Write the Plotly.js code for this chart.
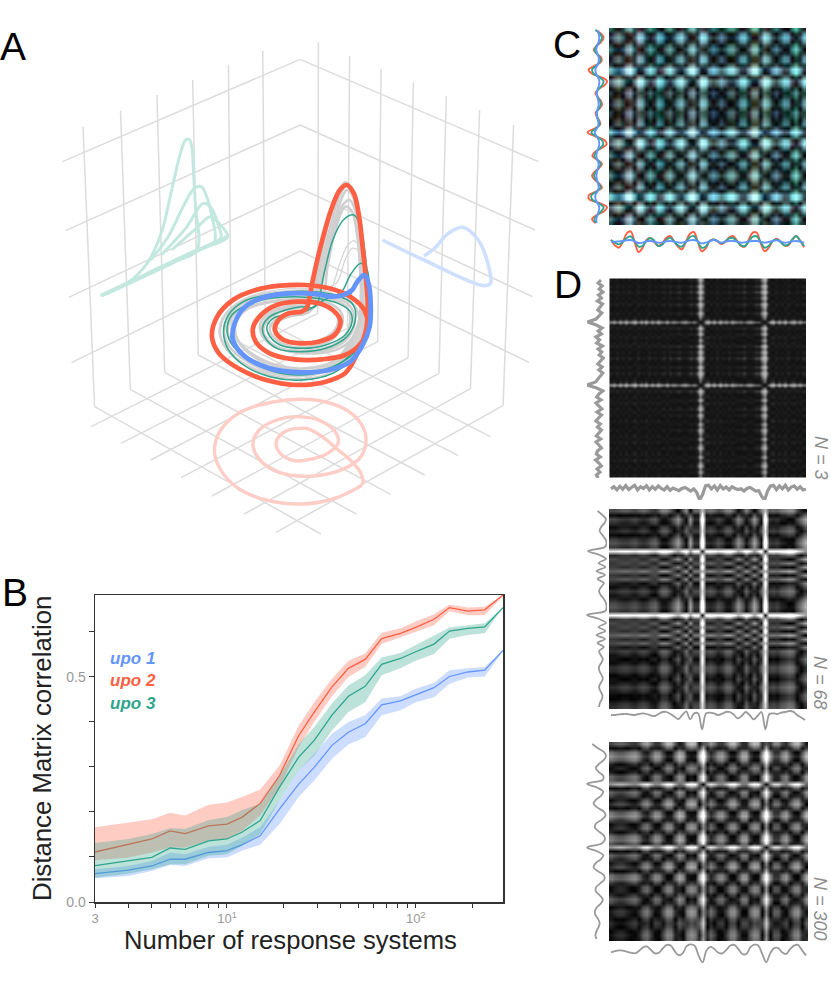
<!DOCTYPE html>
<html><head><meta charset="utf-8">
<script src="https://cdn.plot.ly/plotly-3.0.1.min.js"></script>
<style>html,body{margin:0;padding:0;background:#fff}image{image-rendering:auto!important}</style>
</head><body><div id="chart" style="width:831px;height:995px"></div>
<script>
// ---------- Panel A: paths ----------
const gridSegments=[[[857,118],[178,425]],[[857,315],[187,632]],[[857,505],[196,832]],[[857,693],[204,1028]],
[[857,118],[1537,425]],[[857,315],[1527,630]],[[857,505],[1520,830]],[[857,693],[1510,1027]],
[[237,320],[270,1160]],[[344,272],[372,1108]],[[448,225],[470,1057]],[[550,180],[566,1005]],[[652,135],[660,955]],[[750,92],[757,905]],
[[909,67],[907,880]],[[998,107],[992,925]],[[1088,147],[1078,965]],[[1180,187],[1165,1013]],[[1274,228],[1253,1060]],[[1369,270],[1343,1106]],[[1466,315],[1436,1157]],
[[270,1160],[916,1542]],[[372,1108],[1017,1482]],[[470,1057],[1115,1423]],[[566,1005],[1212,1365]],[[660,955],[1308,1307]],[[757,905],[1400,1250]],
[[1436,1157],[788,1537]],[[1343,1106],[697,1482]],[[1253,1060],[605,1428]],[[1165,1013],[517,1373]],[[1078,965],[430,1320]],[[992,925],[345,1270]],[[907,880],[260,1220]]];
const gray1=[[885,850],[905,760],[930,640],[960,530],[985,487],[1005,510],[1022,590],[1033,680],[1042,790],[1045,870],[1035,950],[1000,1010],[940,1060],[860,1078],[770,1066],[695,1030],[645,985],[628,940],[640,890],[680,850],[740,825],[810,815],[880,812],[950,822],[1000,845],[1025,890],[1012,945],[970,985],[900,1000],[830,995],[775,975],[745,940],[745,905],[775,875],[825,858],[885,850]];
const gray2=[[900,840],[920,750],[945,640],[970,550],[990,510],[1008,530],[1022,600],[1030,700],[1035,800],[1035,880],[1020,950],[985,1005],[930,1045],[860,1058],[780,1048],[710,1015],[665,975],[650,935],[662,890],[700,855],[755,835],[820,827],[890,826],[950,838],[990,862],[1000,905],[980,955],[925,985],[860,992],[800,985],[760,955],[752,925],[770,895],[815,870],[860,862],[900,840]];
const gray3=[[920,835],[935,740],[960,620],[985,560],[1005,575],[1020,650],[1028,750],[1030,830],[1025,900],[1000,965],[950,1025],[870,1045],[790,1035],[725,1005],[682,965],[668,930],[680,890],[715,860],[770,845],[830,838],[895,840],[945,852],[975,880],[975,920],[945,960],[890,980],[835,980],[790,960],[770,930],[785,900],[825,880],[880,870],[920,835]];
const gray4=[[945,810],[970,730],[990,680],[1010,662],[1028,690],[1035,760],[1040,830],[1035,900],[1005,975],[950,1030],[870,1055],[785,1045],[715,1005],[672,955],[660,920],[675,880],[720,850],[790,835],[860,830],[925,835],[945,810]];
const gray5=[[960,790],[985,720],[1005,685],[1025,695],[1035,760],[1042,830],[1040,900],[1010,985],[950,1045],[860,1070],[770,1060],[690,1025],[640,975],[625,935],[640,885],[690,840],[760,815],[840,805],[915,805],[960,790]];
const gray6=[[892,845],[912,755],[938,640],[965,540],[988,498],[1006,520],[1022,595],[1032,690],[1038,795],[1040,875],[1028,950],[992,1008],[935,1052],[860,1068],[775,1057],[702,1022],[655,980],[640,938],[652,890],[690,852],[748,830],[815,821],[885,819],[950,830],[995,853],[1012,897],[996,950],[948,985],[880,996],[815,990],[768,965],[748,932],[758,900],[795,872],[845,860],[892,845]];
const gray7=[[908,838],[928,745],[952,630],[978,555],[998,540],[1014,570],[1026,650],[1032,750],[1033,815],[1030,890],[1010,958],[968,1015],[900,1050],[825,1048],[752,1025],[695,985],[673,945],[675,900],[708,866],[762,848],[825,842],[888,845],[938,860],[962,885],[962,918],[935,950],[885,968],[835,970],[798,952],[780,925],[795,902],[832,888],[880,878],[908,838]];
const teal1=[[900,860],[925,760],[950,660],[980,600],[1010,585],[1030,620],[1042,700],[1052,790],[1062,860],[1062,890],[1045,950],[1005,1015],[950,1060],[860,1080],[770,1070],[695,1035],[650,985],[638,935],[652,885],[695,845],[760,825],[830,815],[895,815],[955,825],[1005,850],[1015,895],[990,950],[930,985],[860,995],[790,985],[755,950],[750,920],[770,890],[815,870],[860,860],[900,860]];
const teal2=[[975,815],[1000,765],[1030,730],[1048,750],[1055,810],[1058,880],[1040,950],[1000,1005],[940,1048],[860,1065],[775,1052],[705,1015],[660,970],[648,930],[662,885],[705,855],[770,835],[840,830],[905,835],[965,850],[1000,875],[1005,905],[985,945],[930,975],[865,985],[800,975],[768,945],[762,920],[780,895],[830,880],[880,870],[925,840],[975,815]];
const teal3=[[1000,825],[1020,790],[1038,772],[1050,790],[1055,840],[1058,890],[1042,945],[1010,1000],[950,1040],[860,1058],[780,1045]];
const redPath=[[880,850],[895,770],[915,680],[945,570],[970,510],[990,495],[1010,520],[1025,590],[1035,680],[1045,780],[1050,860],[1045,930],[1020,1000],[985,1060],[930,1085],[850,1095],[760,1080],[680,1045],[625,1000],[605,950],[620,890],[665,840],[730,810],[800,797],[870,795],[940,805],[1000,830],[1040,870],[1050,920],[1030,970],[985,1005],[920,1018],[840,1018],[770,1000],[730,965],[722,925],[745,885],[790,855],[850,845],[910,850],[955,875],[972,905],[955,945],[910,965],[860,970],[810,960],[785,930],[795,900],[825,880],[860,875],[875,865],[880,850]];
const bluePath=[[980,825],[1005,810],[1020,785],[1040,765],[1052,790],[1058,850],[1055,920],[1035,975],[1000,1025],[940,1050],[860,1057],[770,1045],[700,1010],[665,960],[670,910],[700,860],[760,830],[830,820],[900,822],[950,830],[980,825]];
const wallTeal1=[[290,826],[360,792],[420,730],[460,640],[490,510],[515,400],[530,360],[540,358],[548,385],[553,470],[558,560],[562,690],[500,725],[400,775],[290,826]];
const wallTeal2=[[430,720],[480,650],[530,545],[555,505],[575,500],[590,530],[605,590],[612,665],[560,690],[480,730],[420,760]];
const wallTeal3=[[460,705],[530,625],[580,550],[600,560],[625,620],[630,655],[570,688],[500,722]];
const wallTeal4=[[490,690],[560,625],[600,590],[625,610],[650,650],[590,680]];
const wallTealBase=[[290,826],[650,650]];
const wallBlue=[[1092,660],[1210,720],[1380,797],[1400,790],[1395,740],[1365,660],[1320,622],[1280,640],[1240,685],[1210,708]];
const floorRed=[[860,1225],[875,1225],[920,1250],[965,1290],[1000,1320],[1030,1360],[1035,1390],[1000,1415],[940,1440],[860,1452],[760,1440],[680,1405],[630,1350],[612,1290],[630,1230],[680,1180],[740,1155],[820,1140],[900,1140],[980,1165],[1030,1210],[1045,1260],[1030,1310],[985,1345],[920,1365],[850,1368],[780,1350],[735,1310],[722,1270],[740,1230],[790,1200],[850,1190],[920,1205],[960,1240],[965,1270],[935,1300],[885,1318],[840,1322],[800,1300],[788,1270],[800,1245],[830,1228],[860,1225]];

// ---------- Panel B ----------
const systems=[2,3,4,5,6,8,10,12,15,19,24,29,36,44,54,66,83,100,125,151,189,232,290];
const upo1=[.063,.071,.080,.095,.095,.110,.114,.127,.147,.207,.262,.299,.348,.377,.396,.438,.447,.461,.476,.501,.511,.515,.559];
const upo1Hi=[.073,.080,.091,.110,.106,.123,.127,.143,.166,.225,.292,.329,.374,.400,.415,.452,.457,.474,.487,.515,.519,.522,.561];
const upo1Lo=[.053,.058,.069,.082,.080,.097,.099,.114,.127,.173,.233,.270,.318,.350,.366,.415,.426,.444,.455,.485,.499,.501,.557];
const upo2=[.111,.127,.140,.158,.152,.169,.173,.188,.219,.281,.370,.422,.478,.519,.539,.585,.597,.610,.628,.654,.646,.649,.682];
const upo2Hi=[.166,.177,.184,.198,.192,.216,.221,.233,.250,.303,.392,.444,.496,.536,.552,.598,.608,.623,.639,.661,.654,.656,.682];
const upo2Lo=[.093,.099,.110,.121,.121,.136,.140,.158,.192,.255,.344,.400,.457,.500,.522,.573,.587,.600,.615,.646,.637,.637,.680];
const upo3=[.081,.091,.099,.120,.117,.136,.140,.155,.181,.255,.322,.359,.415,.457,.479,.528,.541,.556,.573,.602,.608,.611,.654];
const upo3Hi=[.131,.140,.151,.164,.162,.182,.189,.204,.218,.281,.351,.389,.441,.481,.504,.543,.553,.571,.593,.610,.615,.619,.654];
const upo3Lo=[.054,.063,.073,.084,.084,.103,.106,.125,.151,.225,.292,.325,.381,.422,.444,.504,.519,.536,.551,.585,.593,.597,.654];
const xTickVals=[2,10,100];
const xTickText=['3','10<sup>1</sup>','10<sup>2</sup>'];
const xMinorVals=[3,4,5,6,7,8,9,20,30,40,50,60,70,80,90,200];
const yTickVals=[0,.5];
const yTickText=['0.0','0.5'];
const yMinorVals=[.1,.2,.3,.4,.6];

// ---------- Panel C profiles ----------
const cLeftRed=[42,58,65,58,44,35,44,58,58,40,20,28,58,75,68,50,40,47,57,60,52,41,44,52,55,38,17,40,68,74,58,38,31,47,60,52,38,30,38,52,60,42,20,22,55,75,66,44,30,40];
const cLeftTeal=[40,54,60,54,44,38,44,54,55,44,30,34,52,65,60,50,44,47,54,56,50,44,46,50,53,42,28,42,60,64,54,42,37,47,56,50,42,36,42,50,56,44,28,30,50,65,58,46,37,42];
const cLeftBlue=[46,50,52,50,46,43,46,50,50,46,40,42,48,52,51,47,44,46,49,50,47,44,45,48,49,45,38,44,50,52,49,45,43,46,50,48,45,43,45,48,50,46,40,41,47,52,50,46,43,44];
const cBottomRed=[42,58,65,48,22,16,48,78,66,42,36,48,60,52,36,30,45,62,70,48,24,18,45,76,68,46,40,46,54,48,34,30,44,60,62,40,20,20,52,76,66,46,38,46,58,58,42,30,44,64];
const cBottomTeal=[42,50,55,48,36,31,45,62,60,45,36,44,60,56,42,35,46,58,62,48,34,30,45,65,62,46,40,45,52,46,37,36,46,58,60,46,32,31,48,65,60,46,40,48,58,56,40,30,44,60];
const cBottomBlue=[47,47,46,45,43,42,46,51,50,46,45,47,50,49,46,45,47,49,50,47,43,42,46,52,50,46,42,45,50,47,45,45,47,50,49,46,45,45,47,50,48,45,43,46,50,49,46,45,47,50];

// ---------- Panel D profiles ----------
const d3Left=[.78,.62,.84,.68,.88,.64,.80,.58,.86,.70,.60,.82,.66,.50,.03,.52,.84,.62,.80,.50,.70,.54,.86,.62,.82,.68,.90,.72,.60,.84,.66,.88,.74,.58,.48,0,.54,.88,.66,.54,.78,.50,.68,.82,.56,.80,.64,.50,.74,.58,.80,.66,.52,.76,.50,.66,.80,.58,.52,.74,.48,.66,.80,.56,.72,.52,.62];
const d3Bottom=[.62,.74,.56,.76,.60,.80,.58,.70,.82,.56,.74,.64,.80,.56,.74,.60,.78,.64,.56,.74,.54,.66,.60,.52,.64,.70,.60,.50,.62,.42,0,.30,.78,.82,.62,.78,.56,.80,.62,.72,.56,.74,.64,.58,.62,.50,.64,.70,.60,.50,.52,.20,0,.50,.78,.82,.58,.78,.62,.82,.56,.72,.78,.60,.74,.56,.60];
const d68Left=[.55,.78,.95,.88,.72,.65,.78,.92,.98,.90,.10,.65,.95,.60,.92,.50,.90,.55,.85,.72,.62,.70,.85,.95,.98,.92,.05,.62,.95,.60,.92,.50,.90,.55,.85,.62,.70,.80,.72,.62,.64,.74,.80,.70,.62,.68,.78,.76,.66,.62];
const d68Bottom=[.75,.75,.78,.80,.80,.77,.75,.80,.83,.80,.73,.70,.80,.90,.90,.80,.67,.55,.75,.93,.53,.83,.83,.03,.83,.87,.83,.75,.80,.90,.90,.77,.58,.70,.90,.75,.53,.70,.90,.03,.80,.83,.80,.87,.90,.95,.92,.75,.63,.50];
const d300Left=[.30,.55,.85,.95,.85,.62,.47,.60,.82,.80,.05,.55,.82,.72,.48,.36,.55,.85,.93,.75,.48,.42,.62,.85,.90,.75,.05,.55,.82,.70,.45,.36,.58,.85,.88,.68,.48,.47,.65,.80,.72,.52,.42,.45,.58,.65,.60,.50,.45,.50];
const d300Bottom=[.51,.57,.60,.59,.54,.49,.46,.57,.74,.79,.63,.46,.49,.69,.86,.83,.57,.37,.46,.80,.89,.83,.36,.03,.60,.77,.66,.49,.46,.63,.83,.86,.66,.43,.43,.74,.87,.83,.43,.03,.46,.71,.71,.51,.43,.66,.83,.86,.60,.36];

// ---------- Layout constants ----------
const W=831,H=995;
const cBlue='#6495ff',cRed='#ff5f43',cTeal='#2fa58c',gridCol='#dcdcdc',profCol='#9a9a9a';
const FONT='Liberation Sans, Arial, sans-serif';
const grayScale=[[0,'#000'],[1,'#fff']];
const darkScale=[[0,'#0e0e0e'],[.25,'#222'],[.7,'#aaa'],[1,'#ccc']];
const layout={width:W,height:H,margin:{l:0,r:0,t:0,b:0},paper_bgcolor:'#fff',plot_bgcolor:'rgba(0,0,0,0)',showlegend:false,font:{family:FONT},annotations:[]};
const traces=[];
let axisCount=0;
function addAxes(x0,x1,y0,y1,xr,yr){
  axisCount++;const s=axisCount===1?'':String(axisCount);
  const common={visible:false,fixedrange:true,showgrid:false,zeroline:false};
  layout['xaxis'+s]=Object.assign({},common,{domain:[x0/W,x1/W],range:xr,anchor:'y'+s});
  layout['yaxis'+s]=Object.assign({},common,{domain:[1-y1/H,1-y0/H],range:yr,anchor:'x'+s});
  return {xaxis:'x'+s,yaxis:'y'+s,s:s};
}
function line(ax,xs,ys,color,width,spline){
  traces.push({type:'scatter',mode:'lines',x:xs,y:ys,xaxis:ax.xaxis,yaxis:ax.yaxis,cliponaxis:false,hoverinfo:'skip',
    line:{color:color,width:width,shape:spline?'spline':'linear',smoothing:spline?1:0}});
}
function path(ax,p,color,width,spline){line(ax,p.map(q=>q[0]),p.map(q=>q[1]),color,width,spline);}
function text(t,px,py,size,color,opt){
  layout.annotations.push(Object.assign({text:t,xref:'paper',yref:'paper',x:px/W,y:1-py/H,showarrow:false,xanchor:'left',yanchor:'middle',font:{size:size,color:color,family:FONT}},opt||{}));
}

// ---------- Panel A ----------
const axA=addAxes(0,550,20,550,[0,1570],[1590,0]);
gridSegments.forEach(s=>path(axA,s,gridCol,1.5,false));
[wallTeal1,wallTeal2,wallTeal3,wallTeal4].forEach(p=>path(axA,p,'#c3e8df',3,true));
path(axA,wallTealBase,'#c3e8df',4,false);
path(axA,wallBlue,'#cfe0ff',3.6,true);
path(axA,floorRed,'#fdcdc6',3.4,true);
[gray1,gray6,gray2,gray7,gray3].forEach(p=>path(axA,p,'#cfcfcf',2.6,true));
path(axA,gray4,'#d4d4d4',1.2,true);path(axA,gray5,'#d4d4d4',1.2,true);
path(axA,teal1,cTeal,1.5,true);path(axA,teal2,cTeal,1.5,true);path(axA,teal3,cTeal,1.5,true);
path(axA,redPath,cRed,4.7,true);
path(axA,bluePath,cBlue,4.8,true);

// ---------- Panel B ----------
const axB=addAxes(95,503,595,902,[Math.log10(2),Math.log10(290)],[0,.682]);
const bx=layout['xaxis'+axB.s],by=layout['yaxis'+axB.s];
const minorX={ticks:'outside',ticklen:4,tickcolor:'#333',tickmode:'array',tickvals:xMinorVals,showgrid:false};
const minorY={ticks:'outside',ticklen:5,tickcolor:'#333',tickmode:'array',tickvals:yMinorVals,showgrid:false};
Object.assign(bx,{visible:true,type:'log',showline:true,mirror:true,linecolor:'#333',linewidth:1.5,ticks:'outside',ticklen:4,tickcolor:'#333',tickmode:'array',tickvals:xTickVals,ticktext:xTickText,tickfont:{size:13,color:'#999'},minor:minorX});
Object.assign(by,{visible:true,showline:true,mirror:true,linecolor:'#333',linewidth:1.5,ticks:'outside',ticklen:5,tickcolor:'#333',tickmode:'array',tickvals:yTickVals,ticktext:yTickText,tickfont:{size:14,color:'#999'},minor:minorY});
text('Number of response systems',290,940,25.6,'#222',{xanchor:'center'});
text('Distance Matrix correlation',42,749,25.8,'#222',{xanchor:'center',textangle:-90});
function band(hi,lo,mid,color,fill){
  traces.push({type:'scatter',mode:'lines',x:systems.concat(systems.slice().reverse()),y:hi.concat(lo.slice().reverse()),xaxis:axB.xaxis,yaxis:axB.yaxis,fill:'toself',fillcolor:fill,line:{width:0},hoverinfo:'skip'});
  traces.push({type:'scatter',mode:'lines',x:systems,y:mid,xaxis:axB.xaxis,yaxis:axB.yaxis,line:{color:color,width:1.3},hoverinfo:'skip'});
}
band(upo1Hi,upo1Lo,upo1,cBlue,'rgba(100,149,255,.32)');
band(upo2Hi,upo2Lo,upo2,cRed,'rgba(255,95,67,.32)');
band(upo3Hi,upo3Lo,upo3,cTeal,'rgba(47,165,140,.32)');
text('<b><i>upo 1</i></b>',108,658,17,cBlue);
text('<b><i>upo 2</i></b>',108,680,17,cRed);
text('<b><i>upo 3</i></b>',108,703,17,cTeal);

// ---------- Panel C ----------
const idx=(n,step)=>Array.from({length:n},(_,i)=>i*step);
const axC=addAxes(609,806,28,225,[-2,198],[198,-2]);
const mean=a=>a.reduce((s,v)=>s+v,0)/a.length;
const centred=a=>{const m=mean(a);return a.map(v=>v-m);};
const mix=(a,b)=>a.map((v,i)=>(v+b[i])/2);
// each colour channel is the distance between the left and the bottom profile of one series
const chanLeft=[cLeftRed,cLeftTeal,mix(cLeftTeal,cLeftBlue)].map(centred);
const chanBottom=[cBottomRed,cBottomTeal,mix(cBottomTeal,cBottomBlue)].map(centred).map(a=>a.map(v=>-v));
const leftScale=[1.15,1.2,1.2],chanGain=[3.4,7.5,12];
const zC=chanLeft[0].map((_,i)=>chanBottom[0].map((__,j)=>[0,1,2].map(k=>Math.min(255,Math.abs(chanLeft[k][i]*leftScale[k]-chanBottom[k][j])*chanGain[k]))));
const canvasC=document.createElement('canvas');
canvasC.width=zC[0].length;canvasC.height=zC.length;
const ctxC=canvasC.getContext('2d'),imgC=ctxC.createImageData(canvasC.width,canvasC.height);
zC.forEach((row,i)=>row.forEach((px,j)=>{const o=4*(i*canvasC.width+j);imgC.data[o]=px[0];imgC.data[o+1]=px[1];imgC.data[o+2]=px[2];imgC.data[o+3]=255;}));
ctxC.putImageData(imgC,0,0);
traces.push({type:'image',source:canvasC.toDataURL(),x0:0,dx:4,y0:0,dy:4,xaxis:axC.xaxis,yaxis:axC.yaxis,zsmooth:'fast',hoverinfo:'skip'});
const axCL=addAxes(582,612,28,225,[0,90],[198,-2]);
const axCB=addAxes(609,806,226,256,[-2,198],[90,0]);
const tC=idx(50,4);
[[cLeftRed,cRed],[cLeftTeal,cTeal],[cLeftBlue,cBlue]].forEach(a=>line(axCL,a[0],tC,a[1],1.9,true));
[[cBottomRed,cRed],[cBottomTeal,cTeal],[cBottomBlue,cBlue]].forEach(a=>line(axCB,tC,a[0],a[1],1.9,true));

// ---------- Panel D ----------
function distancePanel(left,bottom,step,box,leftX,botY,zmax,lw,scale){
  const z=left.map(a=>bottom.map(b=>Math.abs(a-b)));
  const ax=addAxes(box[0],box[1],box[2],box[3],[-2,198],[198,-2]);
  traces.push({type:'heatmap',z:z,x0:0,dx:step,y0:0,dy:step,xaxis:ax.xaxis,yaxis:ax.yaxis,zsmooth:'best',zmin:0,zmax:zmax,showscale:false,hoverinfo:'skip',colorscale:scale});
  const axL=addAxes(leftX[0],leftX[1],box[2],box[3],[0,1],[198,-2]);
  const axBt=addAxes(box[0],box[1],botY[0],botY[1],[-2,198],[0,1]);
  line(axL,left,idx(left.length,step),profCol,lw,step===4);
  line(axBt,idx(bottom.length,step),bottom,profCol,lw,step===4);
}
distancePanel(d3Left,d3Bottom,3,[609,806,278,478],[587,605],[482,500],1,3.2,darkScale);
distancePanel(d68Left,d68Bottom,4,[609,807,509,709],[586,607],[710,730],.7,1.8,grayScale);
distancePanel(d300Left,d300Bottom,4,[609,808,742,941],[586,607],[942,963],.78,1.8,grayScale);
const nOpt={textangle:90,xanchor:'center',yanchor:'middle'};
text('<i>N = 3</i>',821,458,18,'#8c8c8c',nOpt);
text('<i>N = 68</i>',820,683,18,'#8c8c8c',nOpt);
text('<i>N = 300</i>',820,909,18,'#8c8c8c',nOpt);

// ---------- Panel letters ----------
text('A',-2,46,39,'#000');
text('B',0,592,39,'#000');
text('C',551,45,39,'#000');
text('D',552,284,39,'#000');

Plotly.newPlot('chart',traces,layout,{displayModeBar:false,staticPlot:true});
</script></body></html>
